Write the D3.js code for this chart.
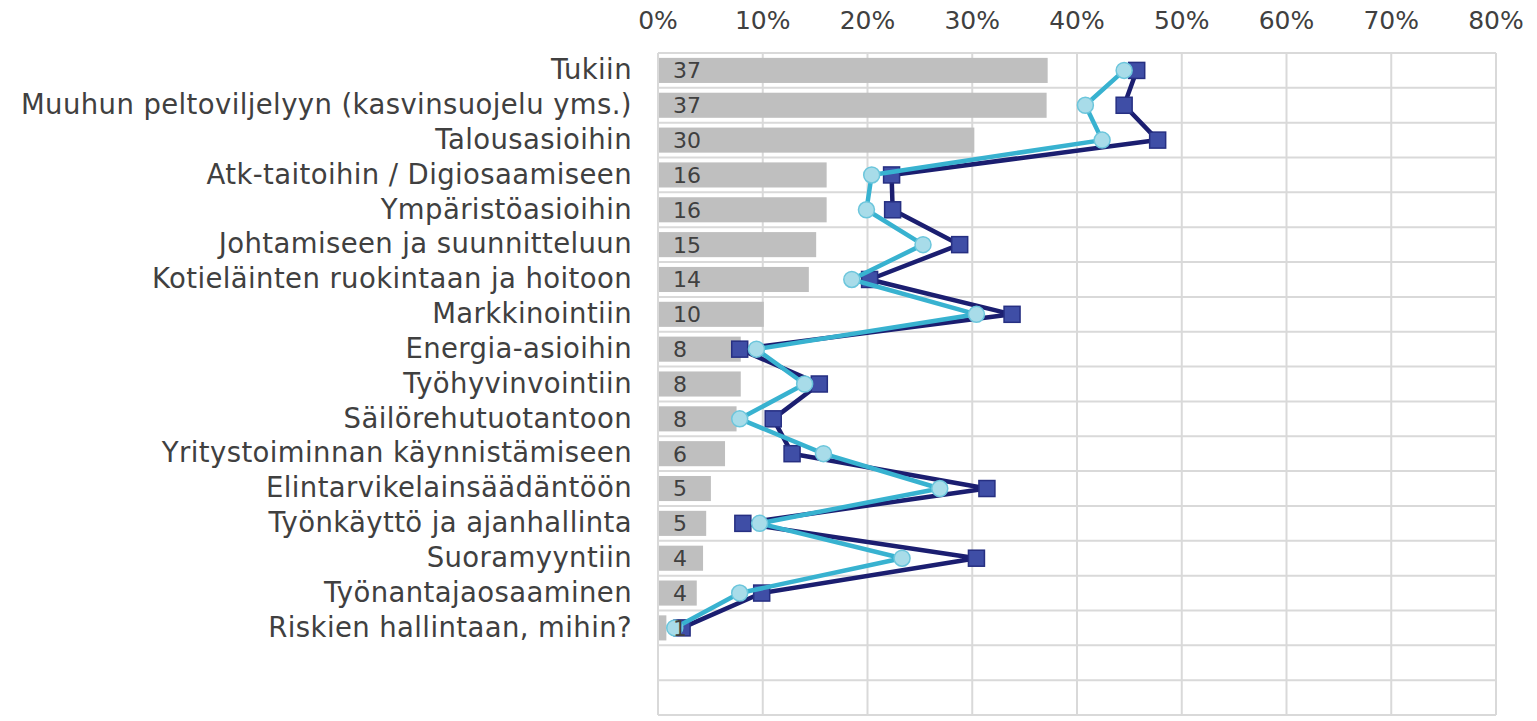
<!DOCTYPE html>
<html lang="en">
<head>
    <meta charset="utf-8">
    <title>Koulutustarpeet</title>
    <script src="https://cdn.jsdelivr.net/npm/d3@7"></script>
    <style>
        body { margin: 0; background: #fff; }
        text { font-family: "DejaVu Sans", Verdana, sans-serif; fill: #404040; }
    </style>
</head>
<body>
<script>
    var categories = ["Tukiin", "Muuhun peltoviljelyyn (kasvinsuojelu yms.)", "Talousasioihin",
        "Atk-taitoihin / Digiosaamiseen", "Ympäristöasioihin", "Johtamiseen ja suunnitteluun",
        "Kotieläinten ruokintaan ja hoitoon", "Markkinointiin", "Energia-asioihin", "Työhyvinvointiin",
        "Säilörehutuotantoon", "Yritystoiminnan käynnistämiseen", "Elintarvikelainsäädäntöön",
        "Työnkäyttö ja ajanhallinta", "Suoramyyntiin", "Työnantajaosaaminen", "Riskien hallintaan, mihin?"];
    var barValues = [37.2, 37.1, 30.2, 16.1, 16.1, 15.1, 14.4, 10.1, 7.9, 7.9, 7.5, 6.4, 5.05, 4.6, 4.3, 3.7, 0.8];
    var barLabels = [37, 37, 30, 16, 16, 15, 14, 10, 8, 8, 8, 6, 5, 5, 4, 4, 1];
    var darkValues = [45.7, 44.5, 47.7, 22.3, 22.4, 28.8, 20.2, 33.8, 7.8, 15.4, 11.0, 12.8, 31.4, 8.1, 30.4, 9.9, 2.3];
    var lightValues = [44.5, 40.8, 42.4, 20.4, 19.9, 25.3, 18.5, 30.4, 9.4, 14.0, 7.8, 15.8, 26.9, 9.7, 23.3, 7.8, 1.6];
    var xTicks = [0, 10, 20, 30, 40, 50, 60, 70, 80];
    var emptyRows = 2;

    var width = 1537, height = 721;
    var svg = d3.select("body").append("svg")
        .attr("width", width)
        .attr("height", height);

    var plotTop = 53, plotBottom = 715;
    var x = d3.scaleLinear().domain([0, 80]).range([658, 1496]);
    var y = d3.scaleBand()
        .domain(d3.range(categories.length + emptyRows))
        .range([plotTop, plotBottom])
        .paddingInner(0.28)
        .paddingOuter(0.14);
    var step = y.step();

    // grid
    var grid = svg.append("g").attr("stroke", "#d9d9d9").attr("stroke-width", 2);
    grid.selectAll("line.v")
        .data(xTicks)
        .join("line")
        .attr("class", "v")
        .attr("x1", d => x(d)).attr("x2", d => x(d))
        .attr("y1", plotTop).attr("y2", plotBottom);
    grid.selectAll("line.h")
        .data(d3.range(categories.length + emptyRows + 1))
        .join("line")
        .attr("class", "h")
        .attr("x1", x(0)).attr("x2", x(80))
        .attr("y1", d => plotTop + d * step).attr("y2", d => plotTop + d * step);

    // top axis labels
    svg.selectAll("text.tick")
        .data(xTicks)
        .join("text")
        .attr("class", "tick")
        .attr("x", d => x(d))
        .attr("y", 29)
        .attr("text-anchor", "middle")
        .attr("font-size", 25)
        .text(d => d + "%");

    // category labels
    svg.selectAll("text.cat")
        .data(categories)
        .join("text")
        .attr("class", "cat")
        .attr("x", 632)
        .attr("y", (d, i) => y(i) + y.bandwidth() / 2)
        .attr("dy", "0.32em")
        .attr("text-anchor", "end")
        .attr("font-size", 27.5)
        .attr("letter-spacing", 0.4)
        .text(d => d);

    // bars
    svg.selectAll("rect.bar")
        .data(barValues)
        .join("rect")
        .attr("class", "bar")
        .attr("x", x(0) + 1)
        .attr("y", (d, i) => y(i))
        .attr("width", d => x(d) - x(0) - 1)
        .attr("height", y.bandwidth())
        .attr("fill", "#bfbfbf");

    function drawSeries(values, lineColor, kind) {
        var line = d3.line()
            .x(d => x(d))
            .y((d, i) => y(i) + y.bandwidth() / 2);
        svg.append("path")
            .datum(values)
            .attr("d", line)
            .attr("fill", "none")
            .attr("stroke", lineColor)
            .attr("stroke-width", 4.5)
            .attr("stroke-linejoin", "round");
        if (kind == "square") {
            svg.selectAll("rect.sq")
                .data(values)
                .join("rect")
                .attr("class", "sq")
                .attr("x", d => x(d) - 8)
                .attr("y", (d, i) => y(i) + y.bandwidth() / 2 - 8)
                .attr("width", 16)
                .attr("height", 16)
                .attr("fill", "#3f4ea6")
                .attr("stroke", "#262f82")
                .attr("stroke-width", 1.5);
        } else {
            svg.selectAll("circle.ci")
                .data(values)
                .join("circle")
                .attr("class", "ci")
                .attr("cx", d => x(d))
                .attr("cy", (d, i) => y(i) + y.bandwidth() / 2)
                .attr("r", 8)
                .attr("fill", "#a8dce9")
                .attr("stroke", "#6cc6dc")
                .attr("stroke-width", 1.5);
        }
    }
    drawSeries(darkValues, "#1b1e70", "square");
    drawSeries(lightValues, "#38b2d0", "circle");

    // bar value labels
    svg.selectAll("text.val")
        .data(barLabels)
        .join("text")
        .attr("class", "val")
        .attr("x", 673)
        .attr("y", (d, i) => y(i) + y.bandwidth() / 2)
        .attr("dy", "0.36em")
        .attr("font-size", 22)
        .text(d => d);
</script>
</body>
</html>
